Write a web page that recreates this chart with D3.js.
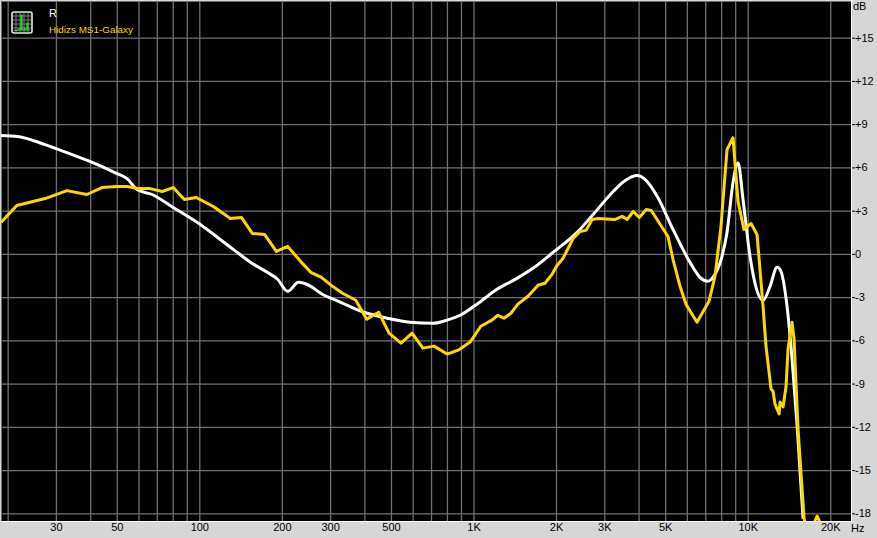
<!DOCTYPE html>
<html><head><meta charset="utf-8">
<script src="https://cdn.jsdelivr.net/npm/d3@7/dist/d3.min.js"></script>
<style>
html,body{margin:0;padding:0;background:#d6d6d6;overflow:hidden}
svg{display:block}
text{font-family:"Liberation Sans",Arial,sans-serif;font-size:11px}
</style></head><body>
<svg id="c" width="877" height="538"></svg>
<script>
const seriesNames = ["R", "Hidizs MS1-Galaxy"];
const gridFreqs = [20,30,40,50,60,70,80,90,100,200,300,400,500,600,700,800,900,1000,2000,3000,4000,5000,6000,7000,8000,9000,10000,20000];
const labelFreqs = [30,50,100,200,300,500,1000,2000,3000,5000,10000,20000];
const freqLabels = ["30","50","100","200","300","500","1K","2K","3K","5K","10K","20K"];
const dbTicks = [15,12,9,6,3,0,-3,-6,-9,-12,-15,-18];

const whiteHz = [18.9,21.8,27.4,32.9,39.3,50.1,54.5,59.3,67.3,80.3,100.8,133,156,177,193,210,230,255,277,328,398,484,587,712,801,894,1030,1217,1440,1647,1950,2387,2730,3232,3575,3954,4230,4680,5340,6160,6695,7160,7470,8060,8405,8840,9220,9615,10195,10725,11375,12065,12795,13120,13915,14515,15145,15920];
const whiteDb = [8.22,8.15,7.58,7.02,6.47,5.57,5.22,4.46,4.12,3.22,2.04,0.31,-0.66,-1.28,-1.76,-2.6,-1.97,-2.25,-2.73,-3.36,-4.05,-4.46,-4.74,-4.81,-4.6,-4.26,-3.49,-2.46,-1.7,-1.0,0.1,1.49,2.73,4.33,5.09,5.43,5.16,3.98,1.7,-0.59,-1.63,-1.9,-1.63,-0.17,1.49,4.95,6.33,3.77,-0.17,-2.32,-3.22,-2.25,-0.93,-1.07,-3.63,-7.3,-11.94,-18.37];

const yellowHz = [18.9,21.6,27.4,32.9,38.9,44.2,50.1,54.5,59.8,66.2,73.2,80.3,88.2,97.5,112.5,129.8,142.4,156,173,191,210,234,255,279,306,333,372,408,451,492,544,597,654,718,801,879,972,1063,1167,1227,1291,1369,1452,1580,1719,1823,1933,2017,2122,2308,2447,2574,2708,2848,3286,3485,3636,3823,4022,4266,4451,5120,5340,5665,5955,6530,7225,7595,7990,8405,8840,9220,9695,10285,10815,11375,11660,12165,12370,12575,13020,13120,13460,13805,14030,14515,14760,15260,16060,16885,17615,17910,18215,18990];
const yellowDb = [2.18,3.36,3.84,4.39,4.12,4.6,4.67,4.67,4.53,4.53,4.33,4.6,3.77,3.91,3.29,2.46,2.53,1.42,1.35,0.17,0.52,-0.52,-1.28,-1.63,-2.25,-2.73,-3.22,-4.53,-4.05,-5.5,-6.19,-5.5,-6.54,-6.4,-6.95,-6.68,-6.12,-5.02,-4.6,-4.26,-4.46,-4.12,-3.49,-2.94,-2.18,-2.04,-1.42,-0.8,-0.31,1.07,1.56,1.63,2.39,2.46,2.39,2.6,2.39,2.94,2.53,3.08,3.01,1.21,-0.38,-2.25,-3.49,-4.74,-3.29,-1.56,1.9,7.23,8.06,3.63,1.7,2.11,1.35,-3.63,-6.4,-9.38,-9.52,-10.42,-11.1,-10.28,-10.62,-9.17,-6.61,-4.74,-5.92,-12.15,-18.37,-20.1,-18.5,-18.2,-18.5,-20.1];

const plot = {l:1, t:1, r:851, b:521};
const x = d3.scaleLog().domain([100,10000]).range([199.3,747.7]);
const y = d3.scaleLinear().domain([15,-18]).range([37.7,513.3]);
const svg = d3.select("#c");
svg.append("defs").append("clipPath").attr("id","pc").append("rect")
  .attr("x",plot.l).attr("y",plot.t).attr("width",plot.r-plot.l).attr("height",plot.b-plot.t);
svg.append("rect").attr("x",plot.l).attr("y",plot.t).attr("width",plot.r-plot.l).attr("height",plot.b-plot.t).attr("fill","#000");

const gridColor = "#707070";
svg.append("path").attr("d",`M${plot.l+.5},${plot.b}V${plot.t+.5}H${plot.r}`).attr("fill","none").attr("stroke",gridColor);
svg.append("path").attr("d",`M0,${plot.b+.5}H${plot.r+.5}V0`).attr("fill","none").attr("stroke","#fff");

const gx = svg.append("g").attr("transform",`translate(0,${plot.b})`)
  .call(d3.axisTop(x).tickValues(gridFreqs).tickSize(plot.b-plot.t).tickFormat(""));
const gy = svg.append("g").attr("transform",`translate(${plot.l},0)`)
  .call(d3.axisRight(y).tickValues(dbTicks).tickSize(plot.r-plot.l).tickFormat(""));
[gx,gy].forEach(g=>{g.select(".domain").remove();g.selectAll("line").attr("stroke",gridColor).attr("stroke-width",1.3);g.selectAll("text").remove();});

const g = svg.append("g").attr("clip-path","url(#pc)");
const whiteLine = d3.line().x(d=>x(d[0])).y(d=>y(d[1])).curve(d3.curveMonotoneX);
const yellowLine = d3.line().x(d=>x(d[0])).y(d=>y(d[1])).curve(d3.curveLinear);
g.append("path").datum(d3.zip(whiteHz,whiteDb)).attr("d",whiteLine).attr("fill","none").attr("stroke","#fff").attr("stroke-width",3).attr("stroke-linejoin","round");
g.append("path").datum(d3.zip(yellowHz,yellowDb)).attr("d",yellowLine).attr("fill","none").attr("stroke","#ffd700").attr("stroke-width",3).attr("stroke-linejoin","round");

const ax = svg.append("g").attr("transform",`translate(0,${plot.b})`)
  .call(d3.axisBottom(x).tickValues(labelFreqs).tickSize(0).tickPadding(2).tickFormat(d=>freqLabels[labelFreqs.indexOf(d)]));
ax.select(".domain").remove();
ax.selectAll("text").attr("fill","#000").style("font-size","11px").style("font-family",'"Liberation Sans",Arial,sans-serif');
svg.append("text").attr("x",851).attr("y",532).attr("fill","#000").text("Hz");

const ay = svg.append("g").attr("transform",`translate(${plot.r+1},0)`)
  .call(d3.axisRight(y).tickValues(dbTicks).tickSize(3).tickPadding(0).tickFormat(d=>d>0?"+"+d:(d<0?"-"+(-d):"0")));
ay.select(".domain").remove();
ay.selectAll("line").attr("stroke","#000");
ay.selectAll("text").attr("fill","#000").style("font-size","11px").style("font-family",'"Liberation Sans",Arial,sans-serif');
svg.append("text").attr("x",853).attr("y",10).attr("fill","#000").text("dB");

svg.append("text").attr("x",49).attr("y",17).attr("fill","#fff").style("font-size","11px").text(seriesNames[0]);
svg.append("text").attr("x",49).attr("y",33).attr("fill","#ffd700").style("font-size","9.9px").text(seriesNames[1]);
const ic = svg.append("g").attr("transform","translate(12,12)");
ic.append("rect").attr("width",20).attr("height",21).attr("rx",2).attr("fill","#111").attr("stroke","#e8e8e8").attr("stroke-width",1.6);
const icGrid = d3.range(4,20,4);
ic.selectAll("line.a").data(icGrid).join("line").attr("x1",d=>d).attr("x2",d=>d).attr("y1",1).attr("y2",20).attr("stroke","#777");
ic.selectAll("line.b").data(icGrid).join("line").attr("y1",d=>d).attr("y2",d=>d).attr("x1",1).attr("x2",19).attr("stroke","#777");
ic.append("path").attr("d","M2,18.5H6V17H8V18H9V3H10V18H12V16H13V18H15V11H16V18H18").attr("fill","none").attr("stroke","#22dd22").attr("stroke-width",1.2);
</script>
</body></html>
